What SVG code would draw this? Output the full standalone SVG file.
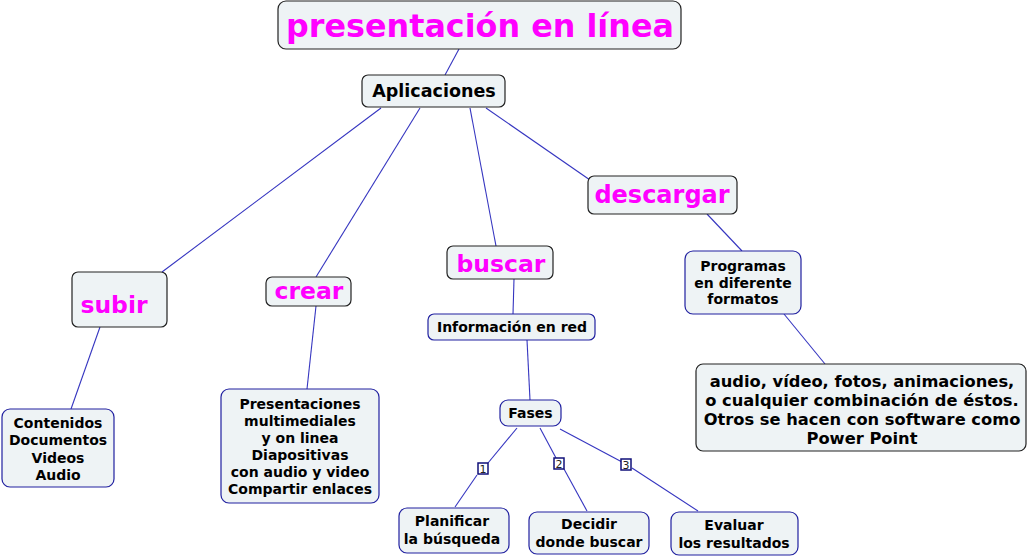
<svg xmlns="http://www.w3.org/2000/svg" width="1029" height="558" viewBox="0 0 1029 558">
<style>
.n{fill:#eef3f5;stroke:#222;stroke-width:1.2}
.b{fill:#eef3f5;stroke:#2020a0;stroke-width:1.2}
.t{font-family:"DejaVu Sans",Verdana,sans-serif;font-weight:bold;fill:#000;text-anchor:middle}
.s{font-size:14px}
.m{fill:#ff00ff}
.c line{stroke:#3535c0;stroke-width:1.1}
.lb{fill:#fff;stroke:#10107a;stroke-width:1.5}
.lt{font-family:"DejaVu Sans",Verdana,sans-serif;font-size:11px;fill:#222;text-anchor:middle}
</style>
<rect width="1029" height="558" fill="#fff"/>
<g class="c">
<line x1="459" y1="49" x2="445" y2="75"/>
<line x1="381" y1="108" x2="162" y2="272"/>
<line x1="420" y1="108" x2="316" y2="277"/>
<line x1="470" y1="108" x2="496" y2="246"/>
<line x1="486" y1="108" x2="590" y2="180"/>
<line x1="707" y1="214" x2="742" y2="251"/>
<line x1="784" y1="314" x2="825" y2="364"/>
<line x1="100" y1="327" x2="71" y2="409"/>
<line x1="316" y1="306" x2="307" y2="389"/>
<line x1="514" y1="279" x2="513" y2="314"/>
<line x1="527" y1="340" x2="530" y2="400"/>
<line x1="517" y1="428" x2="488" y2="463"/>
<line x1="477" y1="475" x2="455" y2="507"/>
<line x1="540" y1="428" x2="556" y2="458"/>
<line x1="564" y1="469" x2="587" y2="511"/>
<line x1="560" y1="429" x2="622" y2="462"/>
<line x1="632" y1="468" x2="698" y2="511"/>
<rect class="lb" x="478" y="463" width="10" height="11"/><text class="lt" x="483" y="472.5">1</text>
<rect class="lb" x="554" y="458" width="10" height="11"/><text class="lt" x="559" y="467.5">2</text>
<rect class="lb" x="621" y="459" width="10" height="11"/><text class="lt" x="626" y="468.5">3</text>
</g>
<g id="title"><rect class="n" x="278" y="1" width="403" height="48" rx="8"/><text class="t m" x="480" y="37" font-size="31.8">presentación en línea</text></g>
<g id="aplicaciones"><rect class="n" x="362" y="75" width="143" height="32" rx="6"/><text class="t" x="434" y="97" font-size="17.5">Aplicaciones</text></g>
<g id="descargar"><rect class="n" x="588" y="176" width="149" height="38" rx="6"/><text class="t m" x="662" y="203" font-size="24">descargar</text></g>
<g id="buscar"><rect class="n" x="447" y="246" width="106" height="33" rx="6"/><text class="t m" x="501" y="272" font-size="23.5">buscar</text></g>
<g id="crear"><rect class="n" x="266" y="277" width="85" height="29" rx="6"/><text class="t m" x="309" y="299" font-size="23.5">crear</text></g>
<g id="subir"><rect class="n" x="72" y="272" width="95" height="55" rx="6"/><text class="t m" x="114" y="313" font-size="23.5">subir</text></g>
<g id="programas"><rect class="b" x="685" y="251" width="116" height="63" rx="8"/><text class="t s"><tspan x="743" y="271">Programas</tspan><tspan x="743" y="287.5">en diferente</tspan><tspan x="743" y="304">formatos</tspan></text></g>
<g id="informacion"><rect class="b" x="428" y="314" width="167" height="26" rx="6"/><text class="t s" x="512" y="332">Información en red</text></g>
<g id="fases"><rect class="b" x="500" y="400" width="61" height="26" rx="8"/><text class="t s" x="530.5" y="418">Fases</text></g>
<g id="audio"><rect class="n" x="696" y="364" width="330" height="87" rx="7"/><text class="t" font-size="16.3"><tspan x="862" y="387">audio, vídeo, fotos, animaciones,</tspan><tspan x="862" y="405.5">o cualquier combinación de éstos.</tspan><tspan x="862" y="425">Otros se hacen con software como</tspan><tspan x="862" y="444">Power Point</tspan></text></g>
<g id="contenidos"><rect class="b" x="2" y="409" width="112" height="78" rx="8"/><text class="t s"><tspan x="58" y="428">Contenidos</tspan><tspan x="58" y="445">Documentos</tspan><tspan x="58" y="463">Videos</tspan><tspan x="58" y="480">Audio</tspan></text></g>
<g id="presentaciones"><rect class="b" x="221" y="389" width="158" height="114" rx="8"/><text class="t s"><tspan x="300" y="409">Presentaciones</tspan><tspan x="300" y="426">multimediales</tspan><tspan x="300" y="443">y on linea</tspan><tspan x="300" y="460">Diapositivas</tspan><tspan x="300" y="476.5">con audio y video</tspan><tspan x="300" y="494">Compartir enlaces</tspan></text></g>
<g id="planificar"><rect class="b" x="399" y="508" width="110" height="45" rx="8"/><text class="t s"><tspan x="452" y="526">Planificar</tspan><tspan x="452" y="544">la búsqueda</tspan></text></g>
<g id="decidir"><rect class="b" x="529" y="512" width="120" height="42" rx="8"/><text class="t s"><tspan x="589" y="529">Decidir</tspan><tspan x="589" y="547">donde buscar</tspan></text></g>
<g id="evaluar"><rect class="b" x="671" y="512" width="127" height="43" rx="8"/><text class="t s"><tspan x="734" y="530">Evaluar</tspan><tspan x="734" y="548">los resultados</tspan></text></g>
</svg>
